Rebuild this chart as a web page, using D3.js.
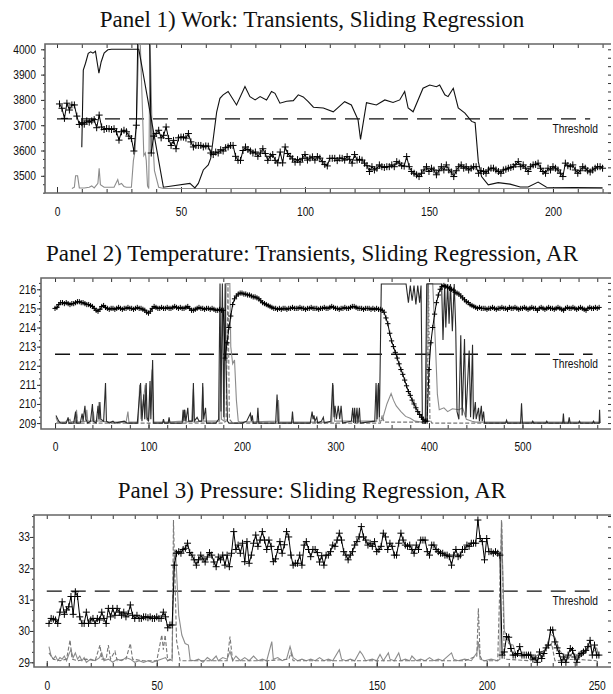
<!DOCTYPE html>
<html><head><meta charset="utf-8">
<script src="https://cdn.jsdelivr.net/npm/d3@7"></script>
<style>
body{margin:0;background:#fff}
svg{display:block}
.title{font-family:"Liberation Serif","Times New Roman",serif;font-size:23px;fill:#111}
.tick text,.thr{font-family:"Liberation Sans",Arial,Helvetica,sans-serif;font-size:12.5px;fill:#111}
</style>
</head><body>
<svg id="c" width="613" height="694"></svg>
<script>
// ---------------- DATA ----------------
// Panel 1: Work
const workTitle = "Panel 1) Work: Transients, Sliding Regression";
const workXTicks = [0, 50, 100, 150, 200];
const workYTicks = [3500, 3600, 3700, 3800, 3900, 4000];
const workThreshold = 3725;
const workSlidingStart = 1;
const workSliding = [
3784,3767,3727,3787,3760,3780,3780,3736,3703,3710,
3704,3717,3712,3717,3722,3690,3740,3693,3683,3687,
3686,3683,3686,3674,3641,3674,3680,3674,3657,3647,
3598,3700,4300,4300,4300,4300,4300,3590,3657,3667,
3680,3650,3660,3693,3647,3620,3640,3607,3650,3653,
3653,3649,3667,3634,3614,3620,3620,3620,3614,3618,
3617,3590,3584,3594,3590,3603,3598,3611,3614,3620,
3620,3577,3561,3561,3600,3614,3604,3598,3590,3594,
3577,3590,3607,3588,3561,3577,3584,3561,3551,3594,
3551,3614,3588,3577,3567,3554,3564,3554,3569,3584,
3562,3570,3575,3562,3576,3570,3556,3545,3539,3569,
3569,3569,3560,3570,3569,3562,3576,3565,3550,3584,
3562,3565,3562,3550,3540,3517,3536,3523,3530,3543,
3536,3533,3536,3536,3543,3536,3556,3550,3540,3538,
3576,3536,3517,3510,3504,3497,3510,3523,3536,3517,
3530,3523,3504,3520,3536,3523,3543,3523,3515,3497,
3520,3536,3543,3530,3536,3523,3530,3536,3536,3510,
3520,3517,3510,3523,3530,3530,3523,3517,3510,3523,
3526,3530,3533,3536,3545,3556,3536,3543,3530,3517,
3536,3543,3545,3550,3530,3517,3510,3530,3523,3536,
3530,3523,3510,3497,3550,3540,3536,3543,3523,3510,
3520,3536,3530,3520,3515,3523,3530,3536,3536,3530];
const workTransient = [
[10,3613],[10.6,3918],[11.5,3945],[12.6,3984],[13.6,3990],[14.5,3985],[15.5,3992],[16.5,3930],[16.9,3906],
[17.8,3950],[19,3985],[20.5,3998],[22,4000],[33,4000],[42.9,3455],[53.6,3470],[55.6,3452],[57,3470],
[59,3523],[61,3543],[62,3570],[64.4,3753],[65.7,3806],[67,3820],[69,3833],[72.4,3780],[75.8,3853],
[77.8,3813],[79.9,3800],[81.9,3813],[84.5,3800],[86.5,3833],[87.9,3826],[89.9,3787],[92.6,3795],
[95.3,3797],[97.3,3820],[99.3,3812],[101.3,3793],[103.4,3771],[107.4,3768],[111.4,3753],[116,3793],
[118.7,3780],[121.4,3721],[122.4,3644],[124.8,3789],[128.8,3780],[132.2,3800],[135.5,3790],[138.2,3800],
[140.2,3833],[141.6,3768],[143.6,3753],[147.6,3846],[150.3,3859],[153,3852],[154.3,3859],[156.4,3820],
[157.7,3813],[159.8,3846],[161.8,3768],[164.5,3748],[167.2,3715],[168.6,3710],[169.9,3556],[171.2,3497],
[173.9,3464],[177.9,3473],[182.7,3467],[186.8,3456],[190,3456],[194,3475],[197.4,3455],[220,3453]];
const workGray = [
[6,3450],[7,3455],[7.5,3500],[8.3,3500],[9,3452],[11,3452],[13,3455],[14,3460],[15,3452],[16.5,3470],
[17,3530],[17.5,3465],[19,3455],[21,3455],[23,3455],[24.5,3485],[25,3465],[26,3470],[27,3458],[28,3455],
[30,3455],[30.8,3560],[31.5,3600],[32.2,3750],[33,4050],[33.5,4050],[34.5,3750],[35,3580],[35.6,3590],
[36,3560],[36.5,3460],[37,3450],[37.5,4050],[38.3,3700],[39.3,3520],[41,3455],[43,3450],[220,3450]];

// Panel 2: Temperature
const tempTitle = "Panel 2) Temperature: Transients, Sliding Regression, AR";
const tempXTicks = [0, 100, 200, 300, 400, 500];
const tempYTicks = [209, 210, 211, 212, 213, 214, 215, 216];
const tempThreshold = 212.6;
const tempSlidingStart = 0;
const tempSlidingStep = 2;
const tempSliding = [
215.0,215.05,215.2,215.3,215.3,215.25,215.3,215.25,215.2,215.25,
215.25,215.3,215.35,215.35,215.3,215.3,215.25,215.2,215.2,215.15,
215.1,215.0,214.9,214.85,214.95,215.1,215.15,215.05,215.0,214.95,
215.0,215.0,214.95,215.0,215.05,215.0,214.95,215.0,215.0,215.05,
215.0,215.0,214.95,215.0,215.05,215.0,215.0,214.95,214.9,214.8,
214.75,214.85,215.0,215.1,215.05,215.0,215.0,215.05,215.0,215.0,
215.05,215.0,215.0,215.05,215.1,215.05,215.0,215.05,215.0,215.0,
215.05,215.1,215.0,214.9,214.9,214.95,215.0,215.05,215.0,215.0,
214.95,215.0,215.0,214.95,215.0,214.95,214.9,214.9,214.95,214.9,
214.9,212.4,213.2,214.0,214.6,215.2,215.5,215.65,215.75,215.8,
215.8,215.75,215.75,215.7,215.7,215.65,215.6,215.6,215.55,215.5,
215.4,215.3,215.25,215.2,215.15,215.1,215.05,215.0,215.0,214.95,
215.0,214.95,215.0,215.0,214.95,215.0,215.0,215.05,215.0,215.0,
215.0,215.05,215.0,215.0,214.95,215.0,215.0,215.05,215.0,215.0,
215.0,214.95,215.0,215.0,215.05,215.0,215.0,215.05,215.1,215.05,
215.0,215.0,214.95,215.0,215.0,215.05,215.0,215.0,215.05,215.1,
215.1,215.05,215.0,215.0,215.0,214.95,215.0,215.0,215.0,214.95,
215.0,214.95,215.0,214.95,214.95,214.9,214.8,214.5,214.2,213.7,
213.3,213.0,212.7,212.4,212.1,211.8,211.55,211.25,210.95,210.65,
210.45,210.2,210.0,209.8,209.6,209.45,209.3,209.2,209.1,209.1,
211.8,213.2,214.0,214.7,215.3,215.7,216.0,216.15,216.2,216.15,
216.1,216.05,216.0,215.95,215.85,215.8,215.75,215.65,215.55,215.45,
215.35,215.3,215.2,215.15,215.1,215.05,215.0,215.05,215.0,215.0,
215.0,214.95,215.0,215.0,215.05,215.0,214.95,215.0,215.0,215.05,
215.0,215.0,214.95,215.05,215.0,215.0,215.05,215.0,214.95,215.0,
215.0,215.05,215.0,214.95,215.0,215.05,215.0,215.0,214.9,215.0,
215.05,215.0,214.95,215.0,215.05,215.0,215.0,214.95,215.0,215.05,
215.0,214.95,214.9,215.0,215.05,215.0,215.0,215.05,215.0,214.95,
215.0,215.05,215.0,214.95,214.9,215.0,215.05,215.0,215.0,215.05,
215.0,215.05];
const tempTransient = [
[1,209.4],[4,209.1],[6,209.0],[12,209.0],[14,209.3],[15,209.0],[20,209.0],[22,209.6],[23,209.0],[27,209.0],
[29,209.5],[30,209.1],[32,209.9],[33,209.2],[35,209.0],[38,209.1],[40,210.0],[41,209.1],[44,209.0],[46,209.9],
[47,209.2],[48,210.1],[49,209.2],[52,209.1],[54,211.1],[55,209.1],[58,209.0],[62,209.1],[64,209.0],[74,209.1],
[77,209.0],[88,209.0],[90,210.2],[91.5,211.1],[93,209.1],[95,210.5],[96,209.2],[97.5,211.1],[98.5,209.3],
[100,209.1],[101.6,211.2],[102.5,209.2],[104.4,212.3],[105.5,209.0],[115,209.0],[116,209.2],[117,209.0],
[121,209.0],[122,209.3],[123,209.0],[136,209.0],[137,209.7],[138,209.1],[138.5,209.7],[140,209.1],[142,209.8],
[143,209.1],[147,209.1],[148,211.1],[149,209.1],[152,209.3],[154,209.1],[157,209.1],[158,211.1],[159,209.2],
[161,209.8],[162,209.0],[172,209.0],[175,209.2],[176.5,216.3],[177.5,209.6],[179,216.3],[180.5,209.3],
[182,216.3],[183,212.0],[184.5,209.1],[186,209.0],[200,209.0],[205,209.1],[209,209.5],[210,209.1],[211,209.4],
[212,209.0],[216,209.0],[217,209.8],[218,209.0],[236,209.0],[237.5,210.5],[239,209.0],[253,209.0],[254,209.6],
[255,209.0],[273,209.0],[275,209.6],[276,209.2],[277,209.4],[278,209.1],[280,209.3],[281,209.0],[285,209.1],
[287,209.3],[288,209.0],[295,209.1],[297,211.1],[298.5,209.3],[299.5,209.9],[301,209.2],[303,209.9],
[304.5,209.2],[306,209.9],[307.5,209.0],[317,209.1],[318.4,209.8],[319.5,209.0],[320.5,209.8],[321.5,209.0],
[323,209.8],[324,209.0],[325.6,209.8],[326.5,209.0],[342,209.1],[343.4,211.1],[344.5,209.2],[346,211.1],
[347,209.3],[349,216.28],[375.5,216.28],[378,215.3],[380,216.2],[382,215.4],[384,216.2],[386,215.2],
[388,216.2],[390,215.3],[391.5,216.2],[393,209.0],[396,209.0],[397.6,216.28],[413.5,216.28],[415,213.35],
[416.8,216.28],[418,214.0],[420,216.28],[421.5,214.2],[423,216.28],[425,213.8],[427,216.28],[428.6,214.0],
[430,209.6],[432,209.2],[434,213.6],[435.5,209.4],[438,213.4],[439.5,209.3],[443,212.8],[444.5,209.3],
[446.6,213.1],[447.5,209.2],[449.6,210.1],[450.5,209.2],[453,209.8],[454,209.1],[456,209.9],[457,209.1],
[458.4,209.6],[459.5,209.0],[482,209.0],[483,209.15],[484,209.0],[498,209.0],[499,210.03],[500,209.0],
[510,209.0],[511,209.1],[512,209.0],[525,209.0],[526,209.1],[527,209.0],[543,209.0],[543.8,209.5],
[544.5,209.0],[549,209.0],[550,209.3],[551,209.0],[560,209.0],[561,209.1],[562,209.0],[575,209.0],
[576,209.1],[577,209.0],[582,209.0],[582.5,209.7],[583,209.0]];
const tempGray = [
[1,209.3],[3,209.05],[10,209.05],[16,209.2],[17,209.05],[22,209.1],[23,209.7],[24,209.05],[33,209.1],
[34,209.7],[35,209.1],[40,209.1],[41,209.6],[42,209.1],[46,209.1],[47,210.1],[48,209.1],[60,209.05],
[76,209.05],[78,209.6],[79,209.05],[89,209.05],[90.5,211.0],[92,209.2],[96.5,211.0],[98,209.2],[100,209.1],
[103.8,211.8],[105,209.05],[120,209.05],[137,209.1],[139,209.7],[140,209.05],[146,209.1],[148,210.8],
[149,209.05],[157,209.1],[158,210.9],[159,209.1],[176,209.1],[177,212.3],[178,209.2],[181,209.1],
[183,216.3],[187,216.3],[188,213],[190,212.1],[192,212.3],[194,210.2],[196,209.1],[198,209.05],[238,209.1],
[239,210.2],[240,209.05],[296,209.05],[297.5,211.0],[299,209.1],[344,209.1],[345.5,211.0],[347,209.1],
[350,209.15],[355,210.0],[359.5,210.55],[362,210.2],[365,209.9],[370,209.6],[375,209.35],[380,209.25],
[385,209.1],[392,209.05],[397,209.05],[398.5,216.3],[404,216.3],[407,213.0],[409,210.5],[411,209.7],
[416,209.8],[420,209.6],[425,209.75],[432,209.7],[436,209.8],[440,209.2],[446,209.1],[450,209.05],[583,209.05]];
const tempAR = [
[1,209.0],[22,209.0],[23,209.5],[24,209.0],[180,209.0],[183,209.1],[185,216.3],[186.5,209.2],[190,209.0],
[348,209.0],[350,209.4],[352,209.05],[398,209.05],[399.5,216.3],[401,209.2],[403,209.0],[583,209.0]];

// Panel 3: Pressure
const presTitle = "Panel 3) Pressure: Sliding Regression, AR";
const presXTicks = [0, 50, 100, 150, 200, 250];
const presYTicks = [29, 30, 31, 32, 33];
const presThreshold = 31.27;
const presSlidingStart = 1;
const presSliding = [
30.24,30.4,30.38,30.35,30.24,30.6,30.93,30.53,30.67,30.77,
31.1,30.53,31.25,31.1,30.45,30.24,30.24,30.6,30.24,30.35,
30.4,30.24,30.4,30.35,30.6,30.4,30.24,30.72,30.45,30.72,
30.5,30.72,30.6,30.5,30.6,30.45,30.55,30.83,30.5,30.4,
30.5,30.4,30.4,30.45,30.45,30.42,30.45,30.4,30.4,30.45,
30.4,30.4,30.6,30.45,30.1,30.19,30.19,32.1,32.48,32.53,
32.48,32.6,32.64,32.8,32.5,32.42,32.27,32.1,32.27,32.42,
32.3,32.2,32.36,32.5,32.42,32.2,32.05,32.36,32.27,32.42,
32.1,32.42,32.05,32.48,33.17,32.6,32.74,32.48,32.8,32.21,
32.85,32.16,32.42,32.8,33.06,32.7,32.9,33.17,32.9,32.6,
32.9,32.7,32.21,32.3,32.6,32.85,32.48,32.75,33.17,33.0,
32.42,32.1,32.16,32.16,32.42,32.1,32.74,32.85,32.6,32.37,
32.6,32.6,32.5,32.2,32.4,32.1,32.42,32.42,32.53,32.74,
32.7,32.9,33.12,32.9,32.53,32.42,32.27,32.42,32.53,32.74,
32.85,33.0,33.33,33.0,32.9,32.74,32.8,32.7,32.85,32.53,
32.6,32.7,33.12,33.0,32.6,32.8,32.7,32.42,32.42,32.8,
33.12,32.9,32.74,32.7,32.74,32.6,32.48,32.74,32.6,32.9,
32.9,32.9,32.53,32.42,32.74,32.74,32.6,32.53,32.48,32.48,
32.42,32.42,32.37,32.1,32.42,32.6,32.37,32.42,32.6,32.6,
32.74,32.7,32.8,32.8,32.8,33.54,32.95,32.85,32.27,32.95,
32.53,32.53,32.48,32.53,32.48,32.42,29.23,29.33,29.82,29.8,
29.44,29.23,29.23,29.28,29.5,29.23,29.23,29.23,29.23,29.23,
29.1,29.14,29.0,29.33,29.12,29.28,29.46,29.55,30.03,30.03,
29.65,29.46,29.28,29.0,29.17,29.0,29.23,29.44,29.38,29.17,
29.0,29.23,29.28,29.33,29.38,29.5,29.7,29.23,29.55,29.23,
29.23];
const presGray = [
[1,29.5],[2,29.2],[3,29.1],[4,29.2],[5,29.05],[6,29.15],[7,29.1],[8,29.2],[9,29.05],[10,29.25],[11,29.4],
[12,29.15],[13,29.3],[14,29.1],[15,29.2],[16,29.05],[17,29.15],[18,29.0],[20,29.1],[22,29.05],[24,29.15],
[25,29.3],[26,29.05],[28,29.1],[30,29.0],[32,29.1],[34,29.05],[36,29.15],[38,29.1],[40,29.0],[42,29.05],
[44,29.0],[46,29.05],[48,29.0],[50,29.05],[52,29.1],[54,29.15],[55,29.05],[56,29.1],[57,29.05],[57.6,32.1],
[58.5,32.6],[60,30.5],[61.4,29.87],[62.9,29.6],[64.4,29.55],[65.2,29.07],[67,29.05],[69,29.1],[71,29.0],
[73,29.15],[75,29.05],[77,29.2],[78,29.05],[80,29.15],[82,29.1],[83.3,29.35],[84.5,29.05],[86,29.2],
[88,29.05],[90,29.15],[92,29.05],[94,29.2],[96,29.05],[98,29.1],[100,29.05],[102.3,29.66],[103,29.1],
[105,29.15],[107,29.05],[109,29.1],[110.6,29.5],[112,29.15],[114,29.05],[116,29.1],[118,29.05],[120,29.1],
[122,29.05],[124,29.15],[126,29.05],[128,29.1],[130,29.05],[133,29.4],[134,29.1],[136,29.05],[138,29.1],
[140,29.05],[142.4,29.35],[143.5,29.25],[145,29.05],[148,29.1],[150,29.05],[151.5,29.25],[153,29.05],
[155.3,29.3],[156,29.1],[158,29.05],[160,29.3],[161,29.05],[163,29.1],[165,29.05],[166,29.2],[168,29.05],
[170,29.1],[172,29.05],[174,29.15],[176,29.05],[178,29.1],[180,29.05],[184,29.3],[185,29.1],[187,29.05],
[190,29.1],[193,29.05],[195.5,29.3],[196.2,29.66],[197,29.1],[199,29.05],[202,29.1],[205,29.05],[206,29.1],
[206.7,33.54],[208,30.0],[209,29.87],[210,29.6],[212,29.55],[213,29.3],[215,29.2],[217,29.2],[219,29.3],
[221,29.1],[223,29.05],[225,29.2],[227,29.45],[229,29.9],[231,29.8],[233,29.4],[235,29.2],[237,29.1],
[239,29.3],[241,29.1],[243,29.2],[245,29.35],[247,29.55],[248,29.3],[250,29.45],[251,29.2]];
const presAR = [
[1,29.3],[3,29.1],[6,29.05],[9,29.1],[10.6,29.71],[11.5,29.1],[14,29.05],[18,29.1],[22,29.05],[24.2,29.55],
[25,29.1],[27,29.1],[28,29.55],[29,29.1],[31,29.35],[32,29.05],[36,29.1],[38,29.6],[39,29.1],[44,29.05],
[50,29.05],[52.3,29.87],[53,29.4],[53.8,29.87],[55,29.05],[57,29.1],[57.6,33.54],[59,29.7],[60.6,29.05],
[70,29.05],[82,29.05],[83.3,29.82],[84.5,29.05],[100,29.05],[110,29.1],[111,29.3],[112,29.05],[150,29.05],
[170,29.05],[190,29.05],[195.5,29.2],[196.2,30.72],[197,29.2],[198,29.05],[205,29.05],[206.8,33.5],
[208,29.1],[220,29.05],[229.5,29.6],[231,29.05],[240,29.1],[250,29.05]];

// ---------------- DRAWING ----------------
const svg = d3.select("#c");
const NARROW = 0.82;

function drawPanel(o) {
  const x = d3.scaleLinear().domain(o.xDomain).range([o.l, o.r]);
  const y = d3.scaleLinear().domain(o.yDomain).range([o.b, o.t]);
  const clipId = "clip" + o.id;
  svg.append("clipPath").attr("id", clipId).append("rect")
    .attr("x", o.l).attr("y", o.t).attr("width", o.r - o.l).attr("height", o.b - o.t);

  svg.append("text").attr("class", "title").attr("x", o.titleX).attr("y", o.titleY)
    .attr("text-anchor", "middle").text(o.title);

  const yStep = o.yTicks[1] - o.yTicks[0];
  const minors = [];
  for (let k = -3; k <= (o.yTicks.length + 1) * 3; k++) {
    const v = o.yTicks[0] + k * yStep / 3;
    if (v >= o.yDomain[0] && v <= o.yDomain[1]) minors.push(v);
  }
  const xMinor = d3.range(0, o.xMinorEnd + 0.001, o.xMinorStep);

  svg.append("g").attr("transform", `translate(0,${o.t})`)
    .call(d3.axisTop(x).tickValues(xMinor).tickSize(-4).tickFormat(""))
    .call(g => g.select(".domain").remove());
  svg.append("g").attr("transform", `translate(0,${o.b})`)
    .call(d3.axisBottom(x).tickValues(xMinor).tickSize(-4).tickFormat(""))
    .call(g => g.select(".domain").remove());
  svg.append("g").attr("transform", `translate(0,${o.b})`)
    .call(d3.axisBottom(x).tickValues(o.xTicks).tickSize(-6).tickPadding(o.xPad).tickFormat(d3.format("d")))
    .call(g => g.select(".domain").remove())
    .call(g => g.selectAll("text").attr("transform", `scale(${NARROW},1)`));
  svg.append("g").attr("transform", `translate(${o.l},0)`)
    .call(d3.axisLeft(y).tickValues(minors).tickSize(2).tickFormat(""))
    .call(g => g.select(".domain").remove());
  svg.append("g").attr("transform", `translate(${o.l},0)`)
    .call(d3.axisLeft(y).tickValues(o.yTicks).tickSize(4).tickPadding(o.yPad).tickFormat(d3.format("d")))
    .call(g => g.select(".domain").remove())
    .call(g => g.selectAll("text").attr("transform", `scale(${NARROW},1)`));
  svg.append("g").attr("transform", `translate(${o.r},0)`)
    .call(d3.axisRight(y).tickValues(minors).tickSize(-3).tickFormat(""))
    .call(g => g.select(".domain").remove());
  svg.selectAll(".tick line").attr("stroke", "#333");

  svg.append("path")
    .attr("d", `M${o.r},${o.t}H${o.l}V${o.b}H${o.r}`)
    .attr("fill", "none").attr("stroke", "#666").attr("stroke-width", 1.6);

  const plot = svg.append("g").attr("clip-path", `url(#${clipId})`);
  const line = d3.line().x(d => x(d[0])).y(d => y(d[1]));

  plot.append("line")
    .attr("x1", x(0)).attr("x2", x(o.thrEnd))
    .attr("y1", y(o.threshold)).attr("y2", y(o.threshold))
    .attr("stroke", "#111").attr("stroke-width", 1.3).attr("stroke-dasharray", "15,9");
  svg.append("g").attr("transform", `translate(598,${y(o.threshold) + 14})`)
    .append("text").attr("class", "thr").attr("text-anchor", "end")
    .attr("transform", `scale(${NARROW},1)`).text("Threshold");

  if (o.gray) plot.append("path").datum(o.gray).attr("d", line)
    .attr("fill", "none").attr("stroke", "#8c8c8c").attr("stroke-width", 1.1);
  if (o.ar) plot.append("path").datum(o.ar).attr("d", line)
    .attr("fill", "none").attr("stroke", "#777").attr("stroke-width", 1.1).attr("stroke-dasharray", "4,2");
  if (o.transient) plot.append("path").datum(o.transient).attr("d", line)
    .attr("fill", "none").attr("stroke", o.transientColor).attr("stroke-width", 1.1);

  const pts = o.sliding.map((v, i) => [o.slideStart + i * o.slideStep, v]);
  plot.append("path").datum(pts).attr("d", line)
    .attr("fill", "none").attr("stroke", "#000").attr("stroke-width", 1);
  const h = o.mark;
  plot.append("path")
    .attr("d", pts.map(p => {
      const px = x(p[0]), py = y(p[1]);
      return `M${px - h},${py}h${2 * h}M${px},${py - h}v${2 * h}`;
    }).join(""))
    .attr("stroke", "#000").attr("stroke-width", 1).attr("fill", "none");
}

drawPanel({
  id: 1, title: workTitle, titleX: 312, titleY: 27,
  l: 45, r: 611, t: 44, b: 193,
  xDomain: [-4.84, 223.4], yDomain: [3432, 4021],
  xTicks: workXTicks, yTicks: workYTicks, xMinorStep: 10, xMinorEnd: 220,
  xPad: 14, yPad: 7, threshold: workThreshold, thrEnd: 215,
  sliding: workSliding, slideStart: workSlidingStart, slideStep: 1, mark: 3.5,
  transient: workTransient, transientColor: "#111", gray: workGray
});

drawPanel({
  id: 2, title: tempTitle, titleX: 312, titleY: 261,
  l: 41, r: 611, t: 278, b: 429,
  xDomain: [-15, 594.7], yDomain: [208.69, 216.59],
  xTicks: tempXTicks, yTicks: tempYTicks, xMinorStep: 20, xMinorEnd: 580,
  xPad: 13, yPad: 2, threshold: tempThreshold, thrEnd: 575,
  sliding: tempSliding, slideStart: tempSlidingStart, slideStep: tempSlidingStep, mark: 2.6,
  transient: tempTransient, transientColor: "#2a2a2a", gray: tempGray, ar: tempAR
});

drawPanel({
  id: 3, title: presTitle, titleX: 312, titleY: 498,
  l: 34, r: 611, t: 515, b: 667,
  xDomain: [-5.8, 256.5], yDomain: [28.85, 33.70],
  xTicks: presXTicks, yTicks: presYTicks, xMinorStep: 10, xMinorEnd: 250,
  xPad: 14, yPad: 1, threshold: presThreshold, thrEnd: 248,
  sliding: presSliding, slideStart: presSlidingStart, slideStep: 1, mark: 3.5,
  gray: presGray, ar: presAR
});
</script>
</body></html>
